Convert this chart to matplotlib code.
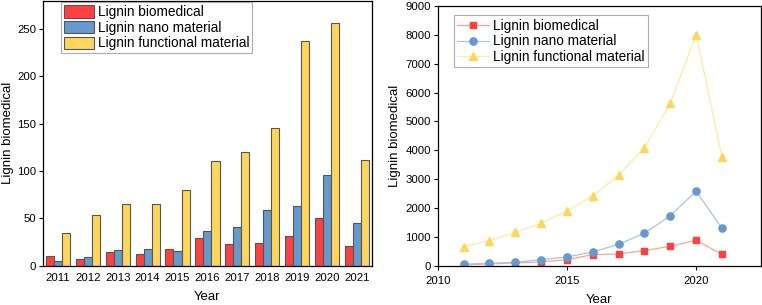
import matplotlib
matplotlib.use("Agg")
import matplotlib.pyplot as plt
import numpy as np

plt.rcParams['font.family'] = ['Liberation Sans', 'DejaVu Sans']

years = [2011, 2012, 2013, 2014, 2015, 2016, 2017, 2018, 2019, 2020, 2021]
bar_biomedical = [10, 7, 14, 12, 18, 29, 23, 24, 31, 50, 21]
bar_nano = [5, 9, 17, 18, 15, 37, 41, 59, 63, 96, 45]
bar_functional = [34, 54, 65, 65, 80, 111, 120, 145, 237, 256, 112]

line_biomedical = [45, 69, 104, 138, 219, 392, 415, 530, 680, 888, 404]
line_nano = [58, 92, 127, 219, 311, 484, 750, 1130, 1740, 2582, 1303]
line_functional = [670, 875, 1165, 1476, 1902, 2420, 3147, 4090, 5626, 8000, 3758]

labels = ['Lignin biomedical', 'Lignin nano material', 'Lignin functional material']
c_red = '#FF4040'
c_blue = '#6699CC'
c_yel = '#FFD65C'
l_red = '#FFA0A0'
l_blue = '#A8C4E2'
l_yel = '#FFE9A6'

fig = plt.figure(figsize=(7.62, 3.05), dpi=100)
ax1 = fig.add_axes([0.0564, 0.129, 0.4316, 0.869])
ax2 = fig.add_axes([0.5744, 0.128, 0.4240, 0.853])

x = np.arange(len(years))
w = 0.27
for i, (vals, col, lab) in enumerate(zip([bar_biomedical, bar_nano, bar_functional],
                                        [c_red, c_blue, c_yel], labels)):
    ax1.bar(x + (i - 1) * w, vals, width=w, color=col, edgecolor='#555555',
            linewidth=0.8, label=lab)
ax1.set_xlim(-0.5, len(years) - 0.5)
ax1.set_ylim(0, 280)
ax1.set_xticks(x)
ax1.set_xticklabels([str(y) for y in years])
ax1.set_yticks([0, 50, 100, 150, 200, 250])
ax1.tick_params(axis='x', length=0, labelsize=8.2, pad=5)
ax1.tick_params(axis='y', direction='out', length=3, labelsize=8.2, pad=2)
ax1.set_xlabel('Year', fontsize=9.5, labelpad=6)
ax1.set_ylabel('Lignin biomedical', fontsize=9.5, labelpad=2)
leg1 = ax1.legend(loc='upper left', bbox_to_anchor=(0.055, 0.993), fontsize=9.8,
                  frameon=True, fancybox=False, edgecolor='#999999',
                  handlelength=2.2, handleheight=1.0, borderpad=0.2,
                  labelspacing=0.12, handletextpad=0.3, borderaxespad=0)
leg1.get_frame().set_linewidth(0.8)

for vals, mc, lc, mk, ms, lab in zip([line_biomedical, line_nano, line_functional],
                                     [c_red, c_blue, c_yel], [l_red, l_blue, l_yel],
                                     ['s', 'o', '^'], [4.5, 5.2, 6], labels):
    ax2.plot(years, vals, color=lc, linewidth=0.9, marker=mk, markersize=ms,
             markerfacecolor=mc, markeredgecolor=mc, label=lab)
ax2.set_xlim(2010, 2022.5)
ax2.set_ylim(0, 9000)
ax2.set_xticks([2010, 2015, 2020])
ax2.set_yticks(range(0, 9001, 1000))
ax2.tick_params(direction='out', length=3, labelsize=8.2, pad=2)
ax2.tick_params(axis='x', pad=4)
ax2.set_xlabel('Year', fontsize=9.5, labelpad=6)
ax2.set_ylabel('Lignin biomedical', fontsize=9.5, labelpad=3)
leg2 = ax2.legend(loc='upper left', bbox_to_anchor=(0.05, 0.963), fontsize=9.8,
                  frameon=True, fancybox=False, edgecolor='#999999',
                  handlelength=2.3, borderpad=0.25, labelspacing=0.12,
                  handletextpad=0.3, borderaxespad=0)
leg2.get_frame().set_linewidth(0.8)

for ax in (ax1, ax2):
    for s in ax.spines.values():
        s.set_linewidth(0.9)

fig.savefig('out.png', dpi=100)
